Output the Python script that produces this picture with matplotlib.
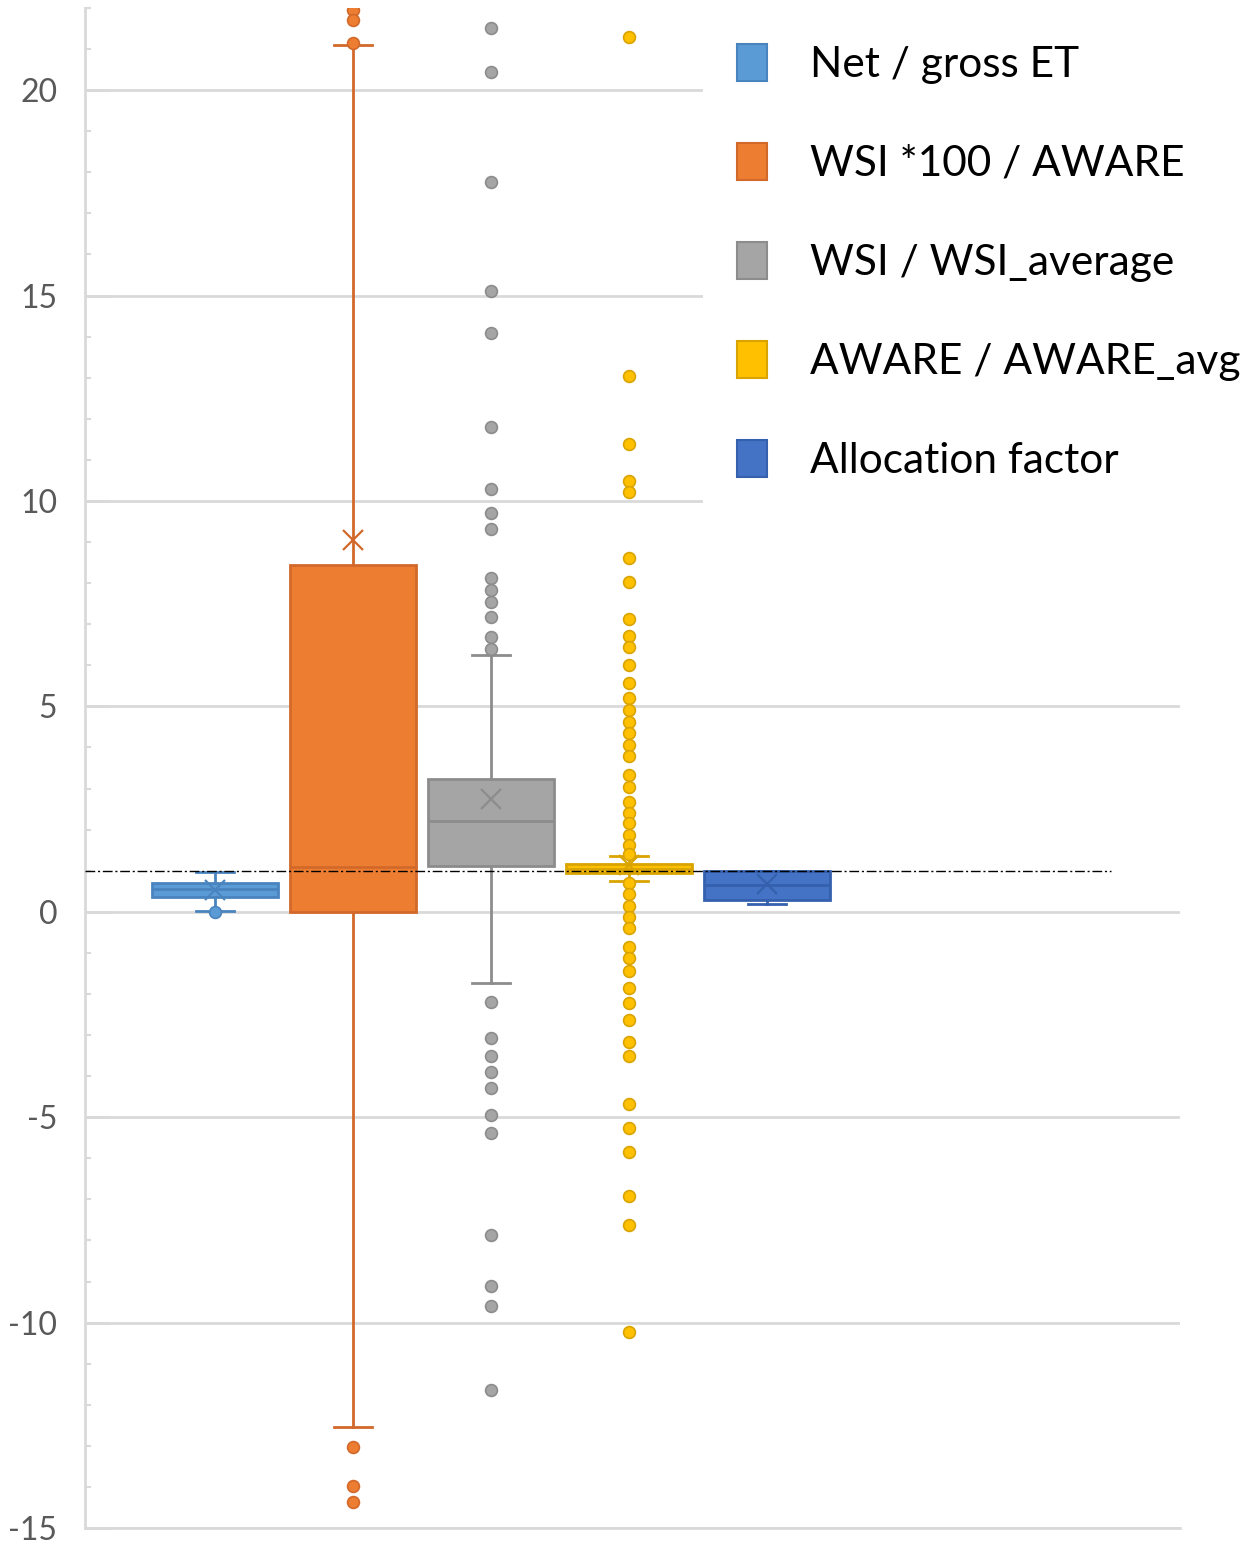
import matplotlib
matplotlib.use("Agg")
import matplotlib.pyplot as plt
from matplotlib.patches import Patch
from matplotlib.ticker import MultipleLocator

plt.rcParams["font.family"] = ["Lato", "DejaVu Sans"]
plt.rcParams["axes.unicode_minus"] = False

# ---- data -------------------------------------------------------------
labels = ["Net / gross ET", "WSI *100 / AWARE", "WSI / WSI_average",
          "AWARE / AWARE_avg", "Allocation factor"]

q1 = [0.36, 0.00, 1.12, 0.95, 0.29]
median = [0.55, 1.09, 2.20, 1.05, 0.66]
q3 = [0.71, 8.44, 3.23, 1.17, 1.00]
mean = [0.53, 9.05, 2.74, 1.15, 0.67]
whisker_low = [0.01, -12.55, -1.73, 0.75, 0.19]
whisker_high = [0.97, 21.09, 6.25, 1.36, 1.00]

fliers_net_et = [-0.01]
fliers_wsi100 = [21.95, 21.70, 21.14, -13.04, -13.97, -14.36]
fliers_wsi_avg = [21.51, 20.44, 17.76, 15.11, 14.09, 11.80, 10.29, 9.71,
                  9.32, 8.13, 7.83, 7.55, 7.18, 6.70, 6.40,
                  -2.19, -3.07, -3.50, -3.89, -4.28, -4.94, -5.38,
                  -7.86, -9.12, -9.59, -11.65]
fliers_aware = [21.29, 13.04, 11.39, 10.49, 10.22, 8.61, 8.03, 7.13, 6.72,
                6.45, 6.01, 5.57, 5.21, 4.91, 4.62, 4.36, 4.06, 3.80, 3.33,
                3.04, 2.68, 2.41, 2.17, 1.87, 1.63, 1.40,
                0.71, 0.44, 0.15, -0.12, -0.39, -0.85, -1.12, -1.44, -1.85,
                -2.21, -2.63, -3.16, -3.50, -4.67, -5.26, -5.84, -6.93,
                -7.62, -10.22]
fliers_alloc = []
fliers = [fliers_net_et, fliers_wsi100, fliers_wsi_avg, fliers_aware,
          fliers_alloc]

reference_level = 1.0

y_ticks = [-15, -10, -5, 0, 5, 10, 15, 20]

# ---- styling ----------------------------------------------------------
fills = ["#5B9BD5", "#ED7D31", "#A5A5A5", "#FFC000", "#4472C4"]
edges = ["#4A84BE", "#D2692A", "#8C8C8C", "#D9A400", "#3560AE"]
grid_color = "#D9D9D9"

fig = plt.figure(figsize=(12.52, 15.48), dpi=100)
ax = fig.add_axes([85 / 1252, 1 - 1528 / 1548, 1095 / 1252, 1520 / 1548])

positions = [1, 2, 3, 4, 5]
for i, pos in enumerate(positions):
    stats = dict(q1=q1[i], med=median[i], q3=q3[i], mean=mean[i],
                 whislo=whisker_low[i], whishi=whisker_high[i],
                 fliers=fliers[i], label=labels[i])
    ax.bxp([stats], positions=[pos], widths=0.91, capwidths=0.275,
           patch_artist=True, showmeans=True, manage_ticks=False,
           boxprops=dict(facecolor=fills[i], edgecolor=edges[i],
                         linewidth=2.0),
           medianprops=dict(color=edges[i], linewidth=2.0),
           whiskerprops=dict(color=edges[i], linewidth=2.0),
           capprops=dict(color=edges[i], linewidth=2.0),
           meanprops=dict(marker="x", markersize=15, markeredgewidth=1.6,
                          markeredgecolor=edges[i], markerfacecolor="none"),
           flierprops=dict(marker="o", markersize=8.5,
                           markerfacecolor=fills[i],
                           markeredgecolor=edges[i], markeredgewidth=1.2),
           zorder=3)

x_left, x_right = 0.058, 7.993
ax.set_xlim(x_left, x_right)
ax.set_ylim(-15, 22)

# reference line at unity
ax.plot([x_left, 7.49], [reference_level, reference_level], color="black",
        linewidth=1.0, linestyle=(0, (7, 2, 1.5, 2)), zorder=5)

# axes, grid and ticks
ax.set_yticks(y_ticks)
ax.set_yticklabels([str(t) for t in y_ticks])
ax.yaxis.set_minor_locator(MultipleLocator(1))
ax.set_xticks([])
ax.grid(axis="y", which="major", color=grid_color, linewidth=2.0, zorder=0)
ax.set_axisbelow(True)
for side in ["top", "right"]:
    ax.spines[side].set_visible(False)
for side in ["left", "bottom"]:
    ax.spines[side].set_color(grid_color)
    ax.spines[side].set_linewidth(2.0)
ax.tick_params(axis="y", which="major", direction="in", length=18,
               width=2.0, color=grid_color, labelsize=23,
               labelcolor="#595959", pad=20)
ax.tick_params(axis="y", which="minor", direction="in", length=4.5,
               width=1.5, color=grid_color)

# legend
handles = [Patch(facecolor=f, edgecolor=e, linewidth=1.5)
           for f, e in zip(fills, edges)]
leg = ax.legend(handles, labels, loc="upper left",
                bbox_to_anchor=(703 / 1252, 1 - 10 / 1548),
                bbox_transform=fig.transFigure, borderaxespad=0,
                frameon=True, facecolor="white", edgecolor="none",
                framealpha=1.0, fancybox=False, fontsize=30.5,
                handlelength=0.71, handleheight=0.97, handletextpad=1.01,
                borderpad=0.80, labelspacing=1.39)
leg.set_zorder(10)

fig.savefig("out.png", dpi=100, facecolor="white")
